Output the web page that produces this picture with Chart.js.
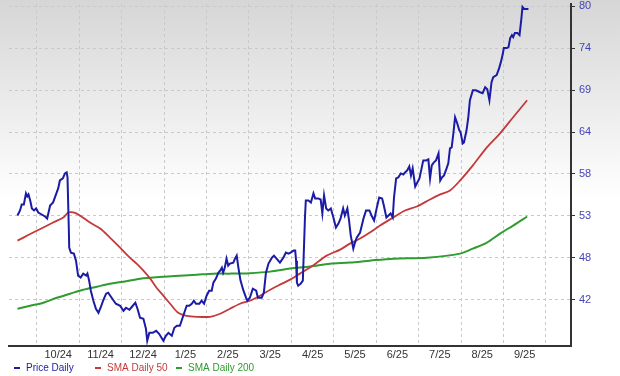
<!DOCTYPE html>
<html>
<head>
<meta charset="utf-8">
<script src="https://cdn.jsdelivr.net/npm/chart.js@4.4.1/dist/chart.umd.min.js"></script>
<style>
html,body{margin:0;padding:0;}
body{width:620px;height:376px;overflow:hidden;background:linear-gradient(#d6d6d6 0px,#ffffff 200px);}
canvas{display:block;}
</style>
</head>
<body>
<canvas id="myChart" width="620" height="376"></canvas>
<script>
// x = meses desde el 1/9/2024 (1 = 1/10/2024)
const priceX=[0.54,0.60,0.64,0.69,0.74,0.77,0.80,0.84,0.88,0.93,0.98,1.03,1.11,1.19,1.24,1.31,1.38,1.44,1.50,1.54,
1.61,1.66,1.70,1.72,1.75,1.76,1.80,1.87,1.92,1.97,2.03,2.09,2.16,2.19,2.23,2.27,2.33,2.39,2.45,2.50,
2.56,2.63,2.68,2.76,2.86,2.96,3.04,3.10,3.18,3.26,3.32,3.37,3.43,3.51,3.57,3.60,3.65,3.73,3.81,3.88,
3.98,4.04,4.10,4.18,4.24,4.30,4.37,4.45,4.53,4.59,4.65,4.70,4.75,4.83,4.88,4.94,5.00,5.06,5.12,5.16,
5.22,5.28,5.32,5.36,5.39,5.43,5.47,5.51,5.55,5.63,5.67,5.71,5.75,5.80,5.87,5.93,5.96,6.02,6.09,6.17,
6.21,6.30,6.35,6.40,6.46,6.54,6.59,6.65,6.73,6.81,6.87,6.93,6.98,7.05,7.09,7.11,7.13,7.16,7.22,7.27,
7.32,7.34,7.40,7.46,7.52,7.56,7.63,7.69,7.73,7.77,7.82,7.87,7.93,7.99,8.05,8.11,8.16,8.22,8.26,8.32,
8.36,8.40,8.46,8.50,8.54,8.62,8.70,8.76,8.84,8.89,8.95,9.01,9.07,9.14,9.18,9.24,9.29,9.34,9.39,9.42,
9.47,9.52,9.58,9.64,9.68,9.73,9.78,9.82,9.86,9.92,9.97,10.02,10.07,10.11,10.18,10.23,10.27,10.31,10.36,10.41,
10.47,10.51,10.55,10.60,10.66,10.70,10.74,10.78,10.82,10.86,10.91,10.96,10.99,11.04,11.07,11.13,11.17,11.21,11.28,11.35,
11.45,11.51,11.57,11.62,11.67,11.72,11.76,11.84,11.90,11.94,11.98,12.01,12.08,12.12,12.16,12.20,12.23,12.27,12.33,12.38,
12.42,12.45,12.49,12.55,12.59]
const priceY=[52.91,53.56,54.34,54.34,55.77,55.38,55.64,54.86,53.82,53.56,53.82,53.30,53.04,52.78,52.52,54.21,54.60,55.51,56.42,57.45,
57.71,58.36,58.49,57.84,51.35,48.75,48.10,47.97,47.06,45.12,44.86,45.38,45.12,45.38,44.47,43.17,41.87,40.83,40.31,40.96,
41.87,42.78,42.91,42.26,41.48,41.22,40.57,40.96,40.70,41.22,41.61,40.83,39.66,39.53,38.23,36.68,37.71,37.71,37.97,37.58,
36.68,37.32,37.71,37.32,38.36,38.62,38.62,39.92,41.22,41.22,41.48,41.87,41.48,41.48,41.87,41.48,42.52,43.17,43.17,44.21,
44.73,45.51,45.77,46.16,45.51,46.16,47.32,46.42,46.68,46.81,47.32,47.71,46.16,44.47,43.17,42.26,41.87,42.26,43.43,43.17,
42.26,42.26,42.91,45.51,46.68,47.45,47.71,47.32,46.81,47.45,48.10,47.97,48.10,48.36,48.36,47.06,44.21,43.82,44.08,44.47,
52.65,54.86,54.86,54.60,55.77,55.12,55.12,54.99,53.17,55.51,53.82,53.56,53.82,52.65,51.35,51.87,52.52,53.82,52.91,53.82,
52.26,50.31,48.62,49.40,50.05,50.70,52.52,53.56,53.56,52.91,52.26,53.82,55.25,55.12,54.21,52.65,52.91,53.17,52.65,55.25,
57.71,57.84,58.36,58.23,58.49,58.75,59.27,58.10,59.01,56.67,57.19,57.71,59.01,60.05,60.05,60.18,57.71,59.40,59.79,60.05,
60.96,57.45,57.84,58.10,59.01,59.66,61.61,61.74,63.56,65.64,64.86,63.95,63.69,62.26,62.39,63.95,65.51,67.84,69.14,69.14,
68.88,68.75,69.53,69.27,67.84,70.18,70.83,71.09,72.00,72.78,73.69,74.60,74.60,74.73,75.90,76.28,76.02,76.54,76.54,76.28,
78.23,79.92,79.66,79.66,79.66]

const sma50X=[0.54,0.68,0.91,1.15,1.38,1.62,1.74,1.86,2.01,2.25,2.49,2.72,2.96,3.19,3.35,3.51,3.67,3.82,3.98,4.14,
4.33,4.53,4.77,5.08,5.32,5.55,5.79,6.02,6.26,6.50,6.73,6.97,7.20,7.51,7.83,8.15,8.38,8.62,8.85,9.09,
9.40,9.68,9.96,10.27,10.51,10.74,10.98,11.28,11.61,11.92,12.23,12.56]
const sma50Y=[49.66,50.05,50.70,51.35,52.00,52.65,53.30,53.30,52.91,52.00,51.22,50.05,48.75,47.45,46.67,45.76,44.73,43.56,42.52,41.48,
40.31,39.92,39.79,39.79,40.18,40.83,41.48,41.87,42.52,43.30,43.95,44.60,45.38,46.42,47.71,48.49,49.27,49.92,50.70,51.61,
52.65,53.56,54.08,54.99,55.64,56.16,57.45,59.40,61.74,63.56,65.64,67.84]

const sma200X=[0.54,0.84,1.15,1.47,1.78,2.09,2.41,2.72,3.04,3.43,3.98,4.37,4.77,5.16,5.55,6.02,6.50,6.97,7.44,7.91,
8.38,8.85,9.40,10.20,10.98,11.28,11.61,11.92,12.23,12.56]
const sma200Y=[40.83,41.22,41.61,42.26,42.78,43.30,43.69,44.08,44.34,44.73,44.99,45.12,45.25,45.38,45.38,45.44,45.64,46.03,46.29,46.67,
46.81,47.06,47.32,47.45,47.97,48.62,49.40,50.57,51.61,52.78]

const inicioMes=[1,2,3,4,5,6,7,8,9,10,11,12,13]
const posMes=[1.5,2.5,3.5,4.5,5.5,6.5,7.5,8.5,9.5,10.5,11.5,12.5]
const etiquetasMes=['10/24','11/24','12/24','1/25','2/25','3/25','4/25','5/25','6/25','7/25','8/25','9/25']
const valoresY=[42,47.43,52.86,58.29,63.71,69.14,74.57,80]
const etiquetasY=['42','48','53','58','64','69','74','80']

const nombres=['Price Daily','SMA Daily 50','SMA Daily 200']
const colores=['#1b1ba6','#c43a3a','#2f9c2f']

function puntos(xs,ys){
  return xs.map((x,i)=>({x:x,y:ys[i]}))
}

const fuente='"Liberation Sans", Arial, sans-serif'

// leyenda dibujada a mano debajo del eje
const leyenda={
  id:'leyenda',
  afterDraw(chart){
    const c=chart.ctx
    c.save()
    c.font='10px '+fuente
    c.textBaseline='middle'
    nombres.forEach((n,i)=>{
      const x=14+i*81
      c.fillStyle=colores[i]
      c.fillRect(x,367,6,2)
      c.fillText(n,x+12,368)
    })
    c.restore()
  }
}

const ctx=document.getElementById('myChart')
const xmin=0.34, xmax=13.594

new Chart(ctx,{
  type:'line',
  data:{
    datasets:[
      {label:nombres[0],data:puntos(priceX,priceY),borderColor:colores[0],borderWidth:2,pointRadius:0,tension:0,order:1},
      {label:nombres[1],data:puntos(sma50X,sma50Y),borderColor:colores[1],borderWidth:1.8,pointRadius:0,tension:0.3,order:2},
      {label:nombres[2],data:puntos(sma200X,sma200Y),borderColor:colores[2],borderWidth:2,pointRadius:0,tension:0.3,order:3}
    ]
  },
  options:{
    responsive:false,
    animation:false,
    devicePixelRatio:1,
    layout:{padding:{left:9,top:4,right:0,bottom:11}},
    plugins:{legend:{display:false},tooltip:{enabled:false}},
    scales:{
      x:{
        type:'linear',min:xmin,max:xmax,
        afterBuildTicks:s=>{s.ticks=inicioMes.map(v=>({value:v}))},
        ticks:{display:false},
        grid:{color:'#c9c9c9',drawTicks:false},
        border:{color:'#333333',width:2,dash:[3,3]}
      },
      xl:{
        type:'linear',position:'bottom',min:xmin,max:xmax,
        afterBuildTicks:s=>{s.ticks=posMes.map(v=>({value:v}))},
        ticks:{callback:(v,i)=>etiquetasMes[i],color:'#333333',font:{size:11,family:fuente},padding:3,maxRotation:0,autoSkip:false},
        grid:{display:false,drawTicks:false},
        border:{display:false}
      },
      y:{
        position:'right',min:36.03,max:80.31,
        afterBuildTicks:s=>{s.ticks=valoresY.map(v=>({value:v}))},
        afterFit:s=>{s.width=49;s.paddingTop=0;s.paddingBottom=0},
        ticks:{callback:(v,i)=>etiquetasY[i],color:'#4545b5',font:{size:11,family:fuente},padding:4},
        grid:{color:'#c9c9c9',tickColor:'#333333',tickLength:4,tickBorderDash:[]},
        border:{color:'#333333',width:2,dash:[3,3]}
      }
    }
  },
  plugins:[leyenda]
})
</script>
</body>
</html>
